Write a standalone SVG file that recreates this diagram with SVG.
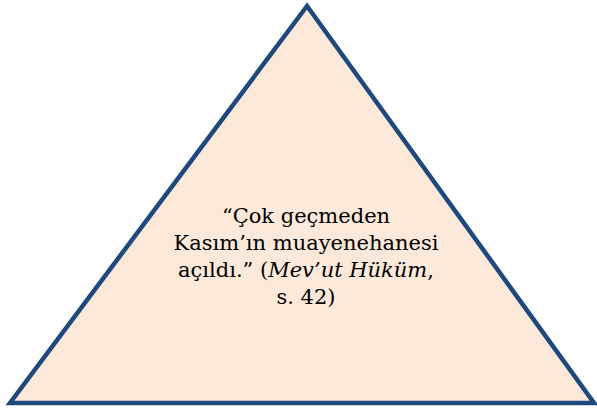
<svg xmlns="http://www.w3.org/2000/svg" width="597" height="410" viewBox="0 0 597 410">
<style>
text{font-family:"DejaVu Serif",serif;font-size:21px;fill:#000;text-anchor:middle}
</style>
<rect width="597" height="410" fill="#fff"/>
<g id="triangle">
<polygon points="307,6 10,403 594,403" fill="#FDE9D9" stroke="#1F497D" stroke-width="4.5" stroke-linejoin="miter"/>
<text x="306" y="223">“Çok geçmeden</text>
<text x="306" y="250">Kasım’ın muayenehanesi</text>
<text x="306" y="277">açıldı.” (<tspan font-style="italic">Mev’ut Hüküm</tspan>,</text>
<text x="306" y="304">s. 42)</text>
</g>
<g id="connectors"/>
</svg>
